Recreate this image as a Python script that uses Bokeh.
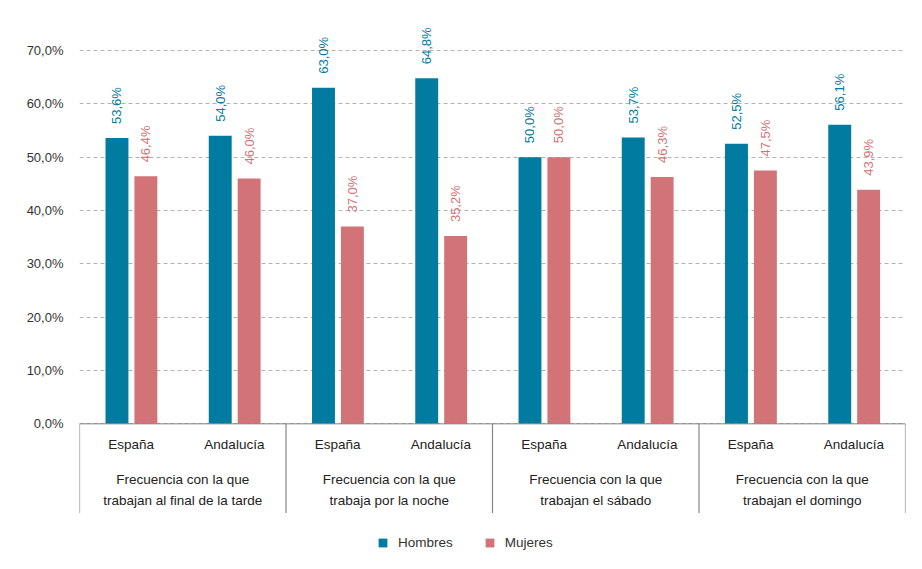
import math
from bokeh.plotting import figure
from bokeh.models import ColumnDataSource, FactorRange, FixedTicker, Span, Range1d
from bokeh.transform import dodge
from bokeh.core.properties import value
from bokeh.embed import file_html
from bokeh.resources import INLINE

# ---------------- data ----------------
groups = [
    "Frecuencia con la que\ntrabajan al final de la tarde",
    "Frecuencia con la que\ntrabaja por la noche",
    "Frecuencia con la que\ntrabajan el sábado",
    "Frecuencia con la que\ntrabajan el domingo",
]
regions = ["España", "Andalucía"]
series = ["Hombres", "Mujeres"]
hombres = [53.6, 54.0, 63.0, 64.8, 50.0, 53.7, 52.5, 56.1]
mujeres = [46.4, 46.0, 37.0, 35.2, 50.0, 46.3, 47.5, 43.9]
y_ticks = [0, 10, 20, 30, 40, 50, 60, 70]
y_tick_labels = ["0,0%", "10,0%", "20,0%", "30,0%", "40,0%", "50,0%", "60,0%", "70,0%"]

# ---------------- styles ----------------
BLUE = "#017BA0"
RED = "#D17377"
FONT = value("Liberation Sans")
TEXT_COLOR = "#222222"
AXIS_COLOR = "#858585"
GRID_COLOR = "#b3b3b3"
SUB_LABEL_Y = -3.9
GROUP_LINE1_Y = -10.5
GROUP_LINE2_Y = -14.4
AXIS_DEPTH = -16.7


def fmt(v):
    return f"{v:.1f}".replace(".", ",") + "%"


factors = [(g, r) for g in groups for r in regions]
src = ColumnDataSource(data=dict(
    x=factors,
    hombres=hombres,
    mujeres=mujeres,
    h_lab=[fmt(v) for v in hombres],
    m_lab=[fmt(v) for v in mujeres],
    sub=[r for g in groups for r in regions],
))

p = figure(
    x_range=FactorRange(factors=factors, factor_padding=0, group_padding=0,
                        subgroup_padding=0, range_padding=0),
    y_range=Range1d(-25.25, 77.875),
    width=914, height=560,
    output_backend="svg", toolbar_location=None,
    x_axis_location=None,
    min_border_left=79, min_border_right=9, min_border_top=8, min_border_bottom=2,
)
p.outline_line_color = None
p.background_fill_color = "white"
p.border_fill_color = "white"

# y axis
yax = p.yaxis[0]
yax.ticker = FixedTicker(ticks=y_ticks)
yax.major_label_overrides = {t: lab for t, lab in zip(y_ticks, y_tick_labels)}
yax.axis_line_color = None
yax.major_tick_line_color = None
yax.minor_tick_line_color = None
yax.major_tick_in = 0
yax.major_tick_out = 0
yax.major_label_standoff = 16
yax.major_label_text_font = "Liberation Sans"
yax.major_label_text_font_size = "13px"
yax.major_label_text_color = "#333333"

p.xgrid.grid_line_color = None
p.ygrid.ticker = FixedTicker(ticks=y_ticks)
p.ygrid.grid_line_color = GRID_COLOR
p.ygrid.grid_line_dash = "4 3"
p.ygrid.grid_line_width = 1

# bars
p.vbar(x=dodge("x", -0.137, range=p.x_range), top="hombres", width=0.222,
       source=src, fill_color=BLUE, line_color=None, legend_label=series[0])
p.vbar(x=dodge("x", 0.143, range=p.x_range), top="mujeres", width=0.222,
       source=src, fill_color=RED, line_color=None, legend_label=series[1])

# value labels
p.text(x=dodge("x", -0.137, range=p.x_range), y="hombres", text="h_lab", source=src,
       angle=math.pi / 2, text_align="left", text_baseline="middle", y_offset=-14,
       text_font=FONT, text_font_size="13px", text_color=BLUE)
p.text(x=dodge("x", 0.143, range=p.x_range), y="mujeres", text="m_lab", source=src,
       angle=math.pi / 2, text_align="left", text_baseline="middle", y_offset=-14,
       text_font=FONT, text_font_size="13px", text_color=RED)

# category axis (drawn inside frame)
p.add_layout(Span(location=0, dimension="width", line_color=AXIS_COLOR, line_width=1))
bounds = [i * len(regions) for i in range(len(groups) + 1)]
p.segment(x0=bounds, y0=[0] * len(bounds), x1=bounds, y1=[AXIS_DEPTH] * len(bounds),
          line_color=AXIS_COLOR, line_width=1.2)

p.text(x="x", y=SUB_LABEL_Y, text="sub", source=src, text_align="center",
       text_baseline="middle", text_font=FONT, text_font_size="13.5px", text_color=TEXT_COLOR)
gsrc = ColumnDataSource(data=dict(
    g=groups,
    l1=[g.split("\n")[0] for g in groups],
    l2=[g.split("\n")[1] for g in groups],
))
p.text(x="g", y=GROUP_LINE1_Y, text="l1", source=gsrc, text_align="center",
       text_baseline="middle", text_font=FONT, text_font_size="13.5px", text_color=TEXT_COLOR)
p.text(x="g", y=GROUP_LINE2_Y, text="l2", source=gsrc, text_align="center",
       text_baseline="middle", text_font=FONT, text_font_size="13.5px", text_color=TEXT_COLOR)

# legend
lg = p.legend[0]
lg.orientation = "horizontal"
lg.location = (298, 6)
lg.padding = 0
lg.margin = 0
lg.spacing = 31
lg.glyph_width = 11
lg.glyph_height = 11
lg.label_standoff = 10
lg.label_height = 20
lg.label_text_font = "Liberation Sans"
lg.label_text_font_size = "13.5px"
lg.label_text_color = "#333333"
lg.border_line_color = None
lg.background_fill_alpha = 0

open("out.html", "w").write(file_html(p, INLINE))
